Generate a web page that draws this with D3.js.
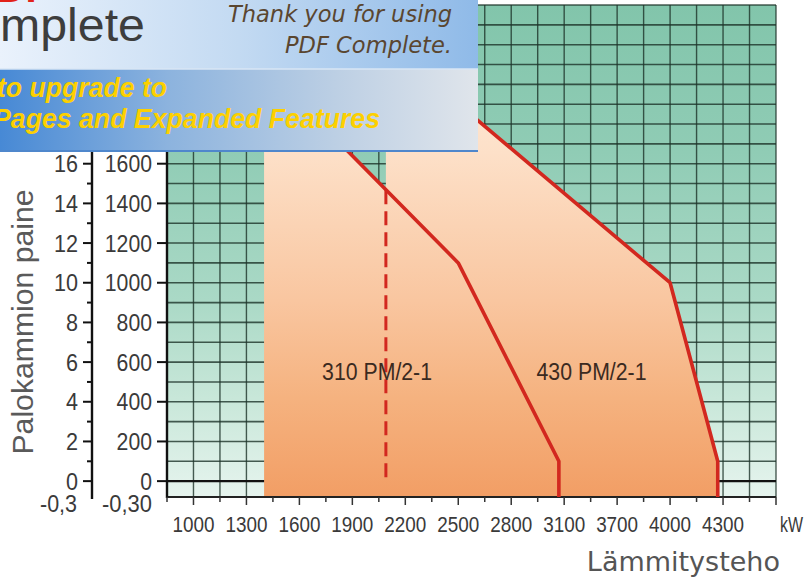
<!DOCTYPE html>
<html>
<head>
<meta charset="utf-8">
<script src="https://cdn.jsdelivr.net/npm/d3@7"></script>
<style>
  body { margin: 0; background: #fff; }
  svg { display: block; }
</style>
</head>
<body>
<div id="chartArea"></div>
<script>
// Data
const xTicks = [1000, 1300, 1600, 1900, 2200, 2500, 2800, 3100, 3700, 4000, 4300];
const yTicks = [0, 200, 400, 600, 800, 1000, 1200, 1400, 1600];
const yTicksLeft = ["0", "2", "4", "6", "8", "10", "12", "14", "16"];
const yBottomLabels = ["-0,3", "-0,30"];
const curve310 = [[1400, 2090], [2500, 1100], [3070, 100], [3070, -80]];
const curve430 = [[2090, 2210], [4000, 1000], [4270, 100], [4270, -80]];
const dash310 = [[2090, 1466], [2090, 0]];
const curveLabels = [
    { text: "310 PM/2-1", kw: 2040, p: 510 },
    { text: "430 PM/2-1", kw: 3410, p: 510 }
];

// Sizes
const width = 805,
    height = 582,
    plot = { left: 167, right: 776, top: 5, bottom: 497 };

const svg = d3.select("#chartArea")
    .append("svg")
    .attr("width", width)
    .attr("height", height);

// Scales: tick labels are evenly spaced, so the kW scale is piecewise
const idx = d3.scaleLinear().domain([-0.5, 11]).range([plot.left, plot.right]);
const x = d3.scaleLinear().domain(xTicks).range(xTicks.map((d, i) => idx(i)));
const y = d3.scaleLinear().domain([-80, 2400]).range([plot.bottom, plot.top]);

// Gradients
const defs = svg.append("defs");
const grad = (id, stops, x1, y1, x2, y2) => {
    const g = defs.append("linearGradient")
        .attr("id", id)
        .attr("gradientUnits", "userSpaceOnUse")
        .attr("x1", x1).attr("y1", y1).attr("x2", x2).attr("y2", y2);
    stops.forEach(([o, c]) => g.append("stop").attr("offset", o).attr("stop-color", c));
};
grad("green", [[0, "#82c5ab"], [0.3, "#90ccb5"], [0.6, "#aad9c6"], [0.8, "#c8e7d9"], [1, "#e6f4ee"]], 0, plot.top, 0, plot.bottom);
grad("orange", [[0, "#fff0e3"], [0.3, "#fde0c8"], [0.6, "#f9c6a0"], [0.8, "#f5b27f"], [1, "#f29e65"]], 0, plot.top, 0, plot.bottom);
grad("bannerTop", [[0, "#eaf2fc"], [0.5, "#c3daf2"], [1, "#8fbae8"]], 0, 0, 478, 0);
grad("bannerBottom", [[0, "#4789d5"], [0.35, "#8cb3de"], [0.7, "#bccfe4"], [1, "#e0e5eb"]], 0, 0, 478, 0);

// Plot background and grid
svg.append("rect")
    .attr("x", plot.left)
    .attr("y", plot.top)
    .attr("width", plot.right - plot.left)
    .attr("height", plot.bottom - plot.top)
    .attr("fill", "url(#green)");

const grid = svg.append("g").attr("stroke", "#1d3329").attr("stroke-opacity", 0.8);

grid.selectAll("line.v")
    .data(d3.range(-0.5, 11.01, 0.5))
    .join("line")
    .attr("class", "v")
    .attr("x1", d => idx(d)).attr("x2", d => idx(d))
    .attr("y1", plot.top).attr("y2", plot.bottom)
    .attr("stroke-width", 1.4);

grid.selectAll("line.h")
    .data(d3.range(100, 2401, 100))
    .join("line")
    .attr("class", "h")
    .attr("x1", plot.left).attr("x2", plot.right)
    .attr("y1", d => y(d)).attr("y2", d => y(d))
    .attr("stroke-width", 1.6);

// zero line
svg.append("line")
    .attr("x1", plot.left).attr("x2", plot.right)
    .attr("y1", y(0)).attr("y2", y(0))
    .attr("stroke", "#111").attr("stroke-width", 2.4);

// Orange working areas
const line = d3.line().x(d => x(d[0])).y(d => y(d[1]));
const area310 = [[1400, -80]].concat(curve310);
const area430 = [[2090, -80]].concat(curve430);

svg.append("g")
    .selectAll("path")
    .data([area310, area430])
    .join("path")
    .attr("d", d => line(d) + "Z")
    .attr("fill", "url(#orange)");

svg.append("line")
    .attr("x1", plot.left).attr("x2", plot.right)
    .attr("y1", plot.bottom).attr("y2", plot.bottom)
    .attr("stroke", "#222").attr("stroke-width", 2);

// Curves
svg.append("g")
    .selectAll("path")
    .data([curve310, curve430])
    .join("path")
    .attr("d", line)
    .attr("fill", "none")
    .attr("stroke", "#d2281f")
    .attr("stroke-width", 3.6)
    .attr("stroke-linejoin", "round");

svg.append("path")
    .attr("d", line(dash310))
    .attr("fill", "none")
    .attr("stroke", "#d2281f")
    .attr("stroke-width", 3)
    .attr("stroke-dasharray", "14,7");

svg.append("g")
    .selectAll("text")
    .data(curveLabels)
    .join("text")
    .attr("x", d => x(d.kw))
    .attr("y", d => y(d.p))
    .attr("text-anchor", "middle")
    .attr("textLength", 110)
    .attr("lengthAdjust", "spacingAndGlyphs")
    .style("font-family", "'Liberation Sans', Arial, sans-serif")
    .style("font-size", "23px")
    .style("fill", "#3b2a1f")
    .text(d => d.text);

// Axes
const axisFont = "'Liberation Sans', Arial, sans-serif";
const leftX = 92;

// right-hand (inner) axis
svg.append("line")
    .attr("x1", plot.left).attr("x2", plot.left)
    .attr("y1", plot.top).attr("y2", plot.bottom + 1)
    .attr("stroke", "#111").attr("stroke-width", 2.4);

svg.append("g")
    .selectAll("line")
    .data(yTicks)
    .join("line")
    .attr("x1", plot.left - 10).attr("x2", plot.left)
    .attr("y1", d => y(d)).attr("y2", d => y(d))
    .attr("stroke", "#111").attr("stroke-width", 2);

svg.append("g")
    .selectAll("text")
    .data(yTicks)
    .join("text")
    .attr("x", 152)
    .attr("y", d => y(d) + 8.5)
    .attr("text-anchor", "end")
    .attr("textLength", d => String(d).length * 11.8)
    .attr("lengthAdjust", "spacingAndGlyphs")
    .style("font-family", axisFont)
    .style("font-size", "23.5px")
    .style("fill", "#3a3a3a")
    .text(d => d);

// left (outer) axis
svg.append("line")
    .attr("x1", leftX).attr("x2", leftX)
    .attr("y1", plot.top).attr("y2", plot.bottom + 2)
    .attr("stroke", "#111").attr("stroke-width", 2.4);

svg.append("g")
    .selectAll("line")
    .data(d3.range(0, 1601, 100))
    .join("line")
    .attr("x1", d => d % 200 === 0 ? leftX - 9 : leftX - 5).attr("x2", leftX)
    .attr("y1", d => y(d)).attr("y2", d => y(d))
    .attr("stroke", "#111").attr("stroke-width", 2);

svg.append("g")
    .selectAll("text")
    .data(yTicks)
    .join("text")
    .attr("x", 78)
    .attr("y", d => y(d) + 8.5)
    .attr("text-anchor", "end")
    .attr("textLength", (d, i) => yTicksLeft[i].length * 12)
    .attr("lengthAdjust", "spacingAndGlyphs")
    .style("font-family", axisFont)
    .style("font-size", "23.5px")
    .style("fill", "#3a3a3a")
    .text((d, i) => yTicksLeft[i]);

svg.append("g")
    .selectAll("text")
    .data(yBottomLabels)
    .join("text")
    .attr("x", (d, i) => i === 0 ? 77 : 152)
    .attr("y", y(-80) + 15)
    .attr("text-anchor", "end")
    .attr("textLength", (d, i) => i === 0 ? 37 : 50)
    .attr("lengthAdjust", "spacingAndGlyphs")
    .style("font-family", axisFont)
    .style("font-size", "23px")
    .style("fill", "#3a3a3a")
    .text(d => d);

// bottom axis
svg.append("g")
    .selectAll("line")
    .data(d3.range(-0.5, 11.01, 0.5))
    .join("line")
    .attr("x1", d => idx(d)).attr("x2", d => idx(d))
    .attr("y1", plot.bottom)
    .attr("y2", d => plot.bottom + (Number.isInteger(d) ? 8 : 5))
    .attr("stroke", "#333").attr("stroke-width", 1.5);

svg.append("g")
    .selectAll("text")
    .data(xTicks)
    .join("text")
    .attr("x", d => x(d))
    .attr("y", 532)
    .attr("text-anchor", "middle")
    .attr("textLength", 42)
    .attr("lengthAdjust", "spacingAndGlyphs")
    .style("font-family", axisFont)
    .style("font-size", "22px")
    .style("fill", "#3a3a3a")
    .text(d => d);

svg.append("text")
    .attr("x", 780)
    .attr("y", 532)
    .attr("textLength", 23)
    .attr("lengthAdjust", "spacingAndGlyphs")
    .style("font-family", axisFont)
    .style("font-size", "22px")
    .style("fill", "#3a3a3a")
    .text("kW");

// Axis titles
svg.append("text")
    .attr("transform", "translate(33,322) rotate(-90)")
    .attr("text-anchor", "middle")
    .attr("textLength", 265)
    .attr("lengthAdjust", "spacingAndGlyphs")
    .style("font-family", axisFont)
    .style("font-size", "29px")
    .style("fill", "#5a5a5a")
    .text("Palokammion paine");

svg.append("text")
    .attr("x", 780)
    .attr("y", 571)
    .attr("text-anchor", "end")
    .style("font-family", "'DejaVu Sans', Verdana, sans-serif")
    .style("font-size", "27px")
    .style("fill", "#555")
    .text("Lämmitysteho");

// Watermark banner covering the upper left corner
const banner = svg.append("g");
banner.append("rect")
    .attr("x", 0).attr("y", 0).attr("width", 478).attr("height", 69)
    .attr("fill", "url(#bannerTop)");
banner.append("rect")
    .attr("x", 0).attr("y", 69).attr("width", 478).attr("height", 82)
    .attr("fill", "url(#bannerBottom)");
banner.append("line")
    .attr("x1", 0).attr("x2", 478).attr("y1", 69).attr("y2", 69)
    .attr("stroke", "#d9e6f4").attr("stroke-width", 1.5);
banner.append("line")
    .attr("x1", 0).attr("x2", 478).attr("y1", 151).attr("y2", 151)
    .attr("stroke", "#4f87cc").attr("stroke-width", 2);

banner.append("text")
    .attr("x", -30).attr("y", 2)
    .style("font-family", axisFont)
    .style("font-weight", "bold")
    .style("font-size", "40px")
    .style("fill", "#e2231a")
    .text("PDF");

banner.append("text")
    .attr("x", 0).attr("y", 41)
    .attr("textLength", 145)
    .attr("lengthAdjust", "spacingAndGlyphs")
    .style("font-family", axisFont)
    .style("font-size", "47px")
    .style("fill", "#3d3d3d")
    .text("mplete");

banner.append("g")
    .selectAll("text")
    .data([["Thank you for using", 22, 224], ["PDF Complete.", 53, 167]])
    .join("text")
    .attr("x", 452)
    .attr("y", d => d[1])
    .attr("text-anchor", "end")
    .attr("textLength", d => d[2])
    .attr("lengthAdjust", "spacingAndGlyphs")
    .style("font-family", "'DejaVu Sans', Verdana, sans-serif")
    .style("font-style", "italic")
    .style("font-size", "23px")
    .style("fill", "#5a4630")
    .text(d => d[0]);

banner.append("g")
    .selectAll("text")
    .data([["to upgrade to", 97, -3, 170], ["Pages and Expanded Features", 128, -7, 387]])
    .join("text")
    .attr("x", d => d[2])
    .attr("y", d => d[1])
    .attr("textLength", d => d[3])
    .attr("lengthAdjust", "spacingAndGlyphs")
    .style("font-family", axisFont)
    .style("font-style", "italic")
    .style("font-weight", "bold")
    .style("font-size", "27px")
    .style("fill", "#fdd000")
    .text(d => d[0]);
</script>
</body>
</html>
